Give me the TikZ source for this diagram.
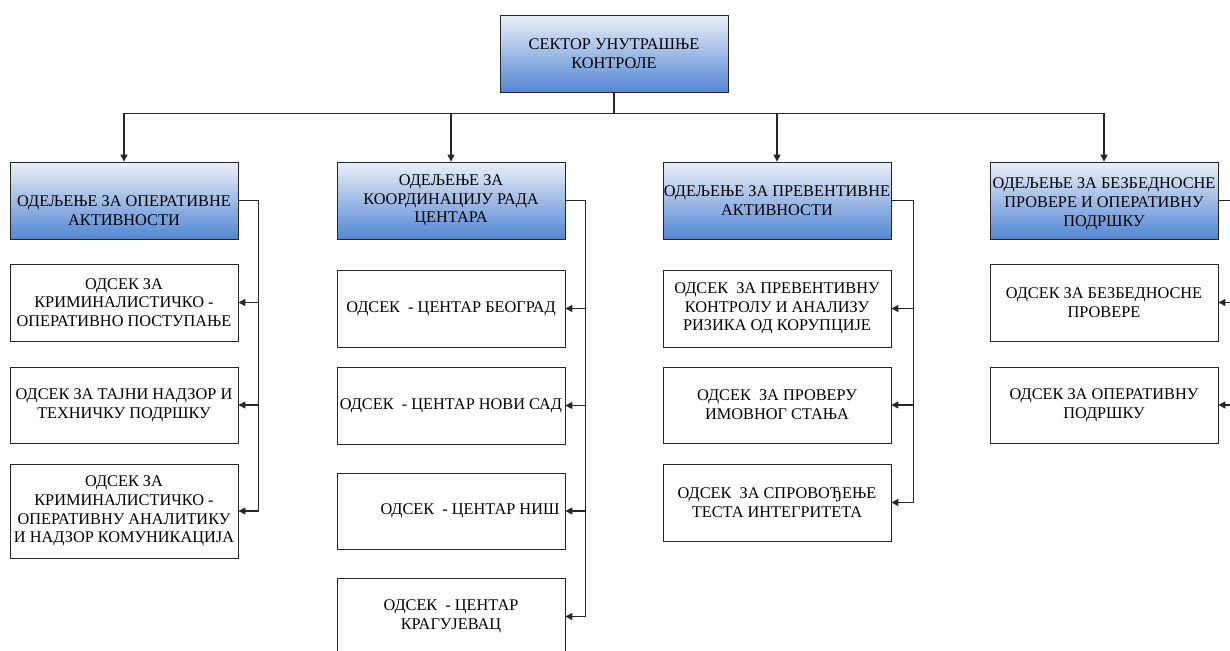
\documentclass[tikz,border=0pt]{standalone}
\usepackage{fontspec}
\setmainfont{Liberation Serif}
\usetikzlibrary{arrows.meta}
\definecolor{deptTop}{RGB}{236,240,248}
\definecolor{deptBottom}{RGB}{82,134,212}
\begin{document}
\begin{tikzpicture}[x=1pt,y=-1pt,
    every node/.style={font=\fontsize{16.3}{18.8}\selectfont,align=center,inner sep=1pt},
    deptbox/.style={draw=black!85,line width=0.8pt,top color=deptTop,bottom color=deptBottom,
      minimum width=228pt,minimum height=77pt},
    unitbox/.style={draw=black!85,line width=0.8pt,fill=white,minimum width=228pt,minimum height=77pt},
    arr/.style={-{Triangle[length=7pt,width=7pt]},line width=1.2pt,black!85}]
    \useasboundingbox (0,0) rectangle (1230,650);

    % Sektor na vrhu.
    \node[deptbox] (sektor) at (614,53.5) {СЕКТОР УНУТРАШЊЕ\\КОНТРОЛЕ};

    % Odeljenja.
    \node[deptbox] (odOper) at (124,200.5) {\rule{0pt}{31pt}ОДЕЉЕЊЕ ЗА ОПЕРАТИВНЕ\\АКТИВНОСТИ};
    \node[deptbox] (odKoord) at (451,200.5) {ОДЕЉЕЊЕ ЗА\\КООРДИНАЦИЈУ РАДА\\ЦЕНТАРА};
    \node[deptbox] (odPrev) at (777,200.5) {ОДЕЉЕЊЕ ЗА ПРЕВЕНТИВНЕ\\АКТИВНОСТИ};
    \node[deptbox] (odBezb) at (1104,200.5) {\rule{0pt}{18pt}ОДЕЉЕЊЕ ЗА БЕЗБЕДНОСНЕ\\ПРОВЕРЕ И ОПЕРАТИВНУ\\ПОДРШКУ};

    % Odseci prvog odeljenja.
    \node[unitbox] (oKrimPost) at (124,302.5) {ОДСЕК ЗА\\КРИМИНАЛИСТИЧКО -\\ОПЕРАТИВНО ПОСТУПАЊЕ};
    \node[unitbox,minimum height=76pt] (oTajni) at (124,405) {ОДСЕК ЗА ТАЈНИ НАДЗОР И\\ТЕХНИЧКУ ПОДРШКУ};
    \node[unitbox,minimum height=94pt] (oKrimAnal) at (124,511) {ОДСЕК ЗА\\КРИМИНАЛИСТИЧКО -\\ОПЕРАТИВНУ АНАЛИТИКУ\\И НАДЗОР КОМУНИКАЦИЈА};

    % Odseci - centri.
    \node[unitbox] (cBeograd) at (451,308.5) {ОДСЕК\ \ - ЦЕНТАР БЕОГРАД};
    \node[unitbox] (cNoviSad) at (451,405.5) {ОДСЕК\ \ - ЦЕНТАР НОВИ САД};
    \node[unitbox,minimum height=76pt] (cNis) at (451,511) {\hspace*{38pt}ОДСЕК\ \ - ЦЕНТАР НИШ};
    \node[unitbox] (cKragujevac) at (451,616.5) {ОДСЕК\ \ - ЦЕНТАР\\КРАГУЈЕВАЦ};

    % Odseci preventive.
    \node[unitbox] (oPrevKontr) at (777,308.5) {ОДСЕК\ \ ЗА ПРЕВЕНТИВНУ\\КОНТРОЛУ И АНАЛИЗУ\\РИЗИКА ОД КОРУПЦИЈЕ};
    \node[unitbox,minimum height=76pt] (oImovno) at (777,405) {ОДСЕК\ \ ЗА ПРОВЕРУ\\ИМОВНОГ СТАЊА};
    \node[unitbox] (oTest) at (777,502.5) {ОДСЕК\ \ ЗА СПРОВОЂЕЊЕ\\ТЕСТА ИНТЕГРИТЕТА};

    % Odseci bezbednosnih provera.
    \node[unitbox] (oBezbProv) at (1104,302.5) {ОДСЕК ЗА БЕЗБЕДНОСНЕ\\ПРОВЕРЕ};
    \node[unitbox,minimum height=76pt] (oOperPodr) at (1104,405) {ОДСЕК ЗА ОПЕРАТИВНУ\\ПОДРШКУ};

    % Veze sektor -> odeljenja.
    \foreach \od in {odOper,odKoord,odPrev,odBezb}
      \draw[arr] (sektor.south) -- ++(0,21) -| (\od.north);

    % Veze odeljenja -> odseci.
    \foreach \o in {oKrimPost,oTajni,oKrimAnal}
      \draw[arr] (odOper.east) -- ++(20,0) |- (\o.east);
    \foreach \o in {cBeograd,cNoviSad,cNis,cKragujevac}
      \draw[arr] (odKoord.east) -- ++(20,0) |- (\o.east);
    \foreach \o in {oPrevKontr,oImovno,oTest}
      \draw[arr] (odPrev.east) -- ++(22,0) |- (\o.east);
    \foreach \o in {oBezbProv,oOperPodr}
      \draw[arr] (odBezb.east) -- ++(20,0) |- (\o.east);
\end{tikzpicture}
\end{document}
